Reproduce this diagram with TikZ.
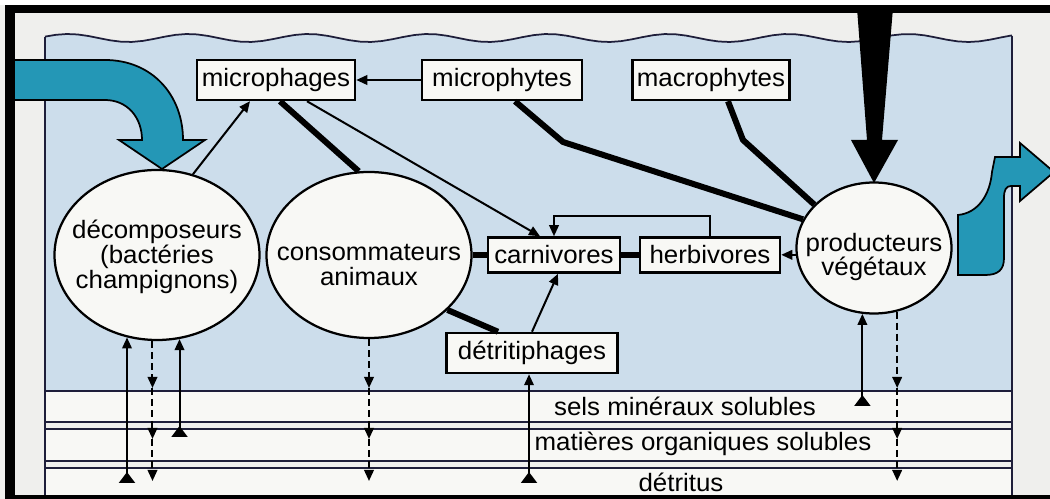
\documentclass[tikz,border=0pt]{standalone}
\usepackage{fontspec}
\setmainfont{Liberation Sans}[FakeStretch=1.03]
\usetikzlibrary{arrows.meta,calc,shapes.geometric}

\definecolor{eau}{HTML}{CCDDEB}
\definecolor{fond}{HTML}{EFEFED}
\definecolor{bande}{HTML}{F8F8F5}
\definecolor{filet}{HTML}{1E1E3A}
\definecolor{flux}{HTML}{2497B6}

\tikzset{
	boite/.style={draw, fill=bande, line width=0.5mm, minimum height=8mm, inner xsep=0.8mm},
	bulle/.style={ellipse, draw, fill=bande, line width=0.45mm, inner sep=0pt},
	fleche/.style={line width=0.4mm, -{Triangle[length=2.2mm,width=1.9mm]}},
	lien/.style={line width=1.2mm},
	pointille/.style={fleche, dash pattern=on 1.4mm off 0.8mm},
	source/.style={line width=0.4mm, {Triangle[reversed,length=2.2mm,width=3.2mm]}-{Triangle[length=2.2mm,width=1.9mm]}},
}

\begin{document}
\begin{tikzpicture}[x=0.2mm, y=-0.2mm, every node/.style={font=\fontsize{14.3}{14.1}\selectfont}]
	\useasboundingbox (0,0) rectangle (1050,499);
	\clip (0,0) rectangle (1050,499);
	% fond, eau et couches
	\fill[fond] (0,0) rectangle (1050,499);
	\fill[white] (0,0) rectangle (1050,5);
	\fill[eau] plot[domain=45:1012, samples=90] (\x, {38+4*sin(3*(\x-45)+200)}) -- (1012,391) -- (45,391) -- cycle;
	\fill[bande] (45,391) rectangle (1012,422);
	\fill[bande] (45,429) rectangle (1012,461);
	\fill[bande] (45,468) rectangle (1012,495);
	\draw[filet, line width=0.35mm] plot[domain=45:1012, samples=90] (\x, {38+4*sin(3*(\x-45)+200)});
	\foreach \y in {391,422,429,461,468}
		\draw[filet, line width=0.35mm] (45,\y) -- (1012,\y);
	\draw[filet, line width=0.35mm] (45,37) -- (45,495);
	\draw[filet, line width=0.35mm] (1012,36) -- (1012,495);
	\node (sels) at (685,406) {sels minéraux solubles};
	\node (matieres) at (703,444) {matières organiques solubles};
	\node (detritus) at (681,482) {détritus};
	\coordinate (t1) at (0,388);
	\coordinate (t2) at (0,439);
	\coordinate (t3) at (0,481);
	\coordinate (b1) at (0,406);
	\coordinate (b2) at (0,437);
	\coordinate (b3) at (0,483);
	% grosses fleches
	\filldraw[fill=flux, line width=0.35mm] (8,60) -- (105,60) .. controls (152,60) and (183,95) .. (183,140) -- (205,140) -- (162,169) -- (119,140) -- (142,140) .. controls (142,117) and (127,100) .. (105,100) -- (8,100) -- cycle;
	\filldraw[fill=flux, line width=0.35mm] (958,275) -- (958,215) .. controls (978,213) and (990,195) .. (992,172) -- (995,157) -- (1020,157) -- (1020,143) -- (1054,172) -- (1020,201) -- (1020,186) -- (1011,186) .. controls (1006,186) and (1004,190) .. (1004,198) -- (1004,258) .. controls (1004,270) and (998,275) .. (985,275) -- cycle;
	\fill (857,8) -- (893,8) -- (882,140) -- (898,140) -- (874,183) -- (851,140) -- (867,140) -- cycle;
	% cadre
	\fill (5,5) rectangle (1050,13);
	\fill (5,5) rectangle (15,499);
	\fill (5,495) rectangle (1050,499);
	% compartiments
	\node[boite, minimum width=31.6mm] (micphag) at (276,80) {microphages};
	\node[boite, minimum width=32mm] (micphy) at (502,80) {microphytes};
	\node[boite, minimum width=31.4mm] (macro) at (711,80) {macrophytes};
	\node[boite, minimum width=26.4mm, minimum height=7mm] (carni) at (554,255) {carnivores};
	\node[boite, minimum width=28mm, minimum height=7mm] (herbi) at (710,255) {herbivores};
	\node[boite, minimum width=34.2mm] (detri) at (532,353) {détritiphages};
	\node[bulle, minimum width=41mm, minimum height=34mm] (deco) at (157,255) {};
	\node[align=center] (decotxt) at (157,257) {décomposeurs\\(bactéries\\champignons)};
	\node[bulle, minimum width=41mm, minimum height=33.2mm] (conso) at (369,255) {};
	\node[align=center] (consotxt) at (369,265) {consommateurs\\animaux};
	\node[bulle, minimum width=31mm, minimum height=26.2mm] (prod) at (874,248) {};
	\node[align=center] (prodtxt) at (874,257) {producteurs\\végétaux};
	% relations
	\draw[fleche] (deco.66) -- ($(micphag.south)+(-26,0)$);
	\draw[fleche] (micphy.west) -- (micphag.east);
	\draw[lien] ($(micphag.south)+(4,0)$) -- (conso.97);
	\draw[fleche] ($(micphag.south)+(31,0)$) -- ($(carni.north)+(-14,0)$);
	\draw[lien, line join=round] ($(micphy.south)+(13,0)$) -- (563,142) -- (prod.158);
	\draw[lien, line join=round] ($(macro.south)+(17,0)$) -- (743,140) -- (prod.144);
	\draw[fleche] (prod.185) -- (prod.185 -| herbi.east);
	\draw[fleche] (herbi.north) -- ++(0,-20) -| (carni.north);
	\draw[lien] (carni.east) -- (herbi.west);
	\draw[lien] (conso.east) -- (carni.west);
	\draw[lien] (conso.325) -- ($(detri.north)+(-34,0)$);
	\draw[fleche] (detri.north) -- ($(carni.south)+(4,0)$);
	% echanges avec les couches
	\draw[source] (detri.262 |- b3) -- (detri.262);
	\draw[source] (deco.250 |- b3) -- (deco.250);
	\draw[source] (deco.285 |- b2) -- (deco.285);
	\draw[source] (prod.260 |- b1) -- (prod.260);
	\foreach \p in {deco.267, conso.270, prod.290}{
		\draw[pointille] (\p) -- (\p |- t1);
		\draw[pointille] (\p |- t1) -- (\p |- t2);
		\draw[pointille] (\p |- t2) -- (\p |- t3);
	}
\end{tikzpicture}
\end{document}
